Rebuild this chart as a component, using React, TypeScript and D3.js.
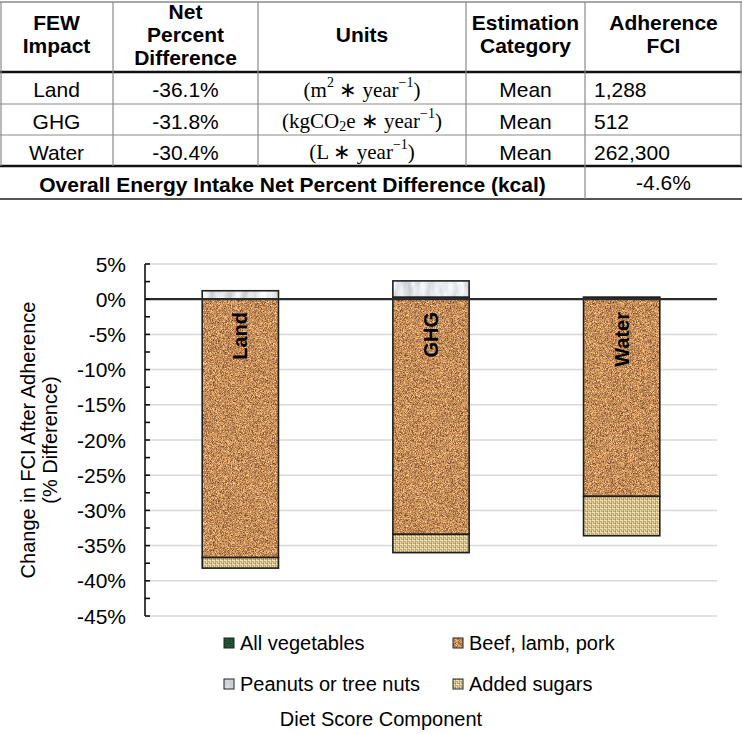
import React from "react";
import * as d3 from "d3";

// ---------- chart data ----------
const categories = ["Land", "GHG", "Water"];
const seriesKeys = ["veg", "beef", "nuts", "sugars"];
const seriesLabels = ["All vegetables", "Beef, lamb, pork", "Peanuts or tree nuts", "Added sugars"];
const allVegetables = [0, 0.3, 0.1];
const beefLambPork = [-36.7, -33.4, -28.0];
const peanutsTreeNuts = [1.2, 2.3, 0.2];
const addedSugars = [-1.5, -2.6, -5.6];
const yTickValues = [5, 0, -5, -10, -15, -20, -25, -30, -35, -40, -45];
const yAxisTitle = ["Change in FCI After Adherence", "(% Difference)"];
const xAxisTitle = "Diet Score Component";

// ---------- table data ----------
const tableHeaders = [["FEW", "Impact"], ["Net", "Percent", "Difference"], ["Units"], ["Estimation", "Category"], ["Adherence", "FCI"]];
const fewImpacts = ["Land", "GHG", "Water"];
const netPercentDiff = ["-36.1%", "-31.8%", "-30.4%"];
const unitParts: [string, string][][] = [
  [["(m", ""], ["2", "sup"], [" \u2217 year", ""], ["\u22121", "sup"], [")", ""]],
  [["(kgCO", ""], ["2", "sub"], ["e \u2217 year", ""], ["\u22121", "sup"], [")", ""]],
  [["(L \u2217  year", ""], ["\u22121", "sup"], [")", ""]],
];
const estimationCategory = ["Mean", "Mean", "Mean"];
const adherenceFCI = ["1,288", "512", "262,300"];
const overallLabel = "Overall Energy Intake Net Percent Difference (kcal)";
const overallValue = "-4.6%";

const W = 742;
const H = 734;
const SANS = "'Liberation Sans', Arial, sans-serif";
const SERIF = "'Liberation Serif', 'Times New Roman', serif";

const filters: Record<string, string | undefined> = {
  veg: "url(#tVeg)",
  beef: "url(#tCork)",
  nuts: "url(#tMarble)",
  sugars: undefined,
};

function UnitText({ parts, x, y }: { parts: [string, string][]; x: number; y: number }) {
  let shift = 0;
  return (
    <text x={x} y={y} textAnchor="middle" dominantBaseline="central" fontFamily={SERIF} fontSize={21} fill="#000">
      {parts.map(([s, k], si) => {
        const target = k === "sup" ? -8 : k === "sub" ? 5 : 0;
        const dy = target - shift;
        shift = target;
        return (
          <tspan key={si} dy={dy} fontSize={k ? 14 : 21}>
            {s}
          </tspan>
        );
      })}
    </text>
  );
}

function Table() {
  const colX = [0, 113, 258, 466, 585, 742];
  const rowY = [2, 72, 104, 135, 166, 199];
  const centers = colX.slice(0, 5).map((x, i) => (x + colX[i + 1]) / 2);
  const headerMid = 34;
  const lh = 23;
  const FS = 21;
  return (
    <g>
      {tableHeaders.map((lines, ci) =>
        lines.map((t, li) => (
          <text
            key={`h${ci}-${li}`}
            x={centers[ci]}
            y={headerMid + (li - (lines.length - 1) / 2) * lh}
            textAnchor="middle"
            dominantBaseline="central"
            fontFamily={SANS}
            fontWeight="bold"
            fontSize={FS}
            fill="#000"
          >
            {t}
          </text>
        ))
      )}
      {fewImpacts.map((imp, ri) => {
        const cy = (rowY[ri + 1] + rowY[ri + 2]) / 2 + 1.5;
        return (
          <g key={`r${ri}`} fontFamily={SANS} fontSize={FS} fill="#000">
            <text x={centers[0]} y={cy} textAnchor="middle" dominantBaseline="central">{imp}</text>
            <text x={centers[1]} y={cy} textAnchor="middle" dominantBaseline="central">{netPercentDiff[ri]}</text>
            <UnitText parts={unitParts[ri]} x={centers[2]} y={cy} />
            <text x={centers[3]} y={cy} textAnchor="middle" dominantBaseline="central">{estimationCategory[ri]}</text>
            <text x={colX[4] + 9} y={cy} textAnchor="start" dominantBaseline="central">{adherenceFCI[ri]}</text>
          </g>
        );
      })}
      <text
        x={colX[4] / 2}
        y={(rowY[4] + rowY[5]) / 2 + 2}
        textAnchor="middle"
        dominantBaseline="central"
        fontFamily={SANS}
        fontWeight="bold"
        fontSize={FS}
      >
        {overallLabel}
      </text>
      <text
        x={centers[4]}
        y={(rowY[4] + rowY[5]) / 2}
        textAnchor="middle"
        dominantBaseline="central"
        fontFamily={SANS}
        fontSize={FS}
      >
        {overallValue}
      </text>
      <line x1={0} x2={W} y1={rowY[0]} y2={rowY[0]} stroke="#8a8a8a" strokeWidth={1.5} />
      {[rowY[2], rowY[3]].map((y) => (
        <line key={y} x1={0} x2={W} y1={y} y2={y} stroke="#8a8a8a" strokeWidth={1.2} />
      ))}
      <line x1={0} x2={W} y1={rowY[1]} y2={rowY[1]} stroke="#111" strokeWidth={2.5} />
      <line x1={0} x2={W} y1={rowY[4]} y2={rowY[4]} stroke="#111" strokeWidth={2.5} />
      <line x1={0} x2={W} y1={rowY[5]} y2={rowY[5]} stroke="#555" strokeWidth={2} />
      {[1, 2, 3].map((i) => (
        <line key={i} x1={colX[i]} x2={colX[i]} y1={rowY[0]} y2={rowY[4]} stroke="#8a8a8a" strokeWidth={1.2} />
      ))}
      <line x1={colX[4]} x2={colX[4]} y1={rowY[0]} y2={rowY[5]} stroke="#8a8a8a" strokeWidth={1.2} />
      <line x1={1} x2={1} y1={rowY[0]} y2={rowY[4]} stroke="#8a8a8a" strokeWidth={1.2} />
      <line x1={W - 1} x2={W - 1} y1={rowY[0]} y2={rowY[4]} stroke="#8a8a8a" strokeWidth={1.2} />
    </g>
  );
}

function Defs() {
  return (
    <defs>
      <filter id="tCork" x="0" y="0" width="1" height="1" colorInterpolationFilters="sRGB">
        <feTurbulence type="fractalNoise" baseFrequency="1.6" numOctaves="2" seed="4" result="n" />
        <feColorMatrix
          in="n"
          type="matrix"
          values="1.1 0 0 0 0.22  0.95 0 0 0 0.08  0.75 0 0 0 -0.02  0 0 0 0 1"
          result="c"
        />
        <feComposite in="c" in2="SourceGraphic" operator="in" />
      </filter>
      <filter id="tVeg" x="0" y="0" width="1" height="1" colorInterpolationFilters="sRGB">
        <feTurbulence type="fractalNoise" baseFrequency="0.9" numOctaves="2" seed="7" result="n" />
        <feColorMatrix in="n" type="matrix" values="0.2 0 0 0 0.02  0.35 0 0 0 0.14  0.25 0 0 0 0.06  0 0 0 0 1" result="c" />
        <feComposite in="c" in2="SourceGraphic" operator="in" />
      </filter>
      <filter id="tMarble" x="0" y="0" width="1" height="1" colorInterpolationFilters="sRGB">
        <feTurbulence type="fractalNoise" baseFrequency="0.12 0.04" numOctaves="4" seed="11" result="n" />
        <feColorMatrix in="n" type="matrix" values="0.35 0 0 0 0.72  0.35 0 0 0 0.73  0.35 0 0 0 0.74  0 0 0 0 1" result="c" />
        <feComposite in="c" in2="SourceGraphic" operator="in" />
      </filter>
      <pattern id="pBurlap" width="4" height="4" patternUnits="userSpaceOnUse">
        <rect width="4" height="4" fill="#c4a86f" />
        <rect x="0" y="0" width="3" height="1" fill="#efe3ba" />
        <rect x="0" y="2" width="1" height="2" fill="#e6d5a2" />
        <rect x="2" y="1" width="1" height="2" fill="#e9d9aa" />
        <rect x="3" y="3" width="1" height="1" fill="#a98c55" />
      </pattern>
    </defs>
  );
}

function FillRect({ k, x, y, w, h }: { k: string; x: number; y: number; w: number; h: number }) {
  return k === "sugars" ? (
    <rect x={x} y={y} width={w} height={h} fill="url(#pBurlap)" />
  ) : (
    <rect x={x} y={y} width={w} height={h} fill="#000" filter={filters[k]} />
  );
}

function Chart() {
  const left = 145;
  const right = 717;
  const top = 264;
  const bottom = 616;

  const x = d3.scaleBand<string>().domain(categories).range([left, right]).paddingInner(0.6).paddingOuter(0.3);
  const y = d3.scaleLinear().domain([-45, 5]).range([bottom, top]);

  const rows = categories.map((c, i) => ({
    cat: c,
    veg: allVegetables[i],
    beef: beefLambPork[i],
    nuts: peanutsTreeNuts[i],
    sugars: addedSugars[i],
  }));
  const stacked = d3.stack<any>().keys(seriesKeys).offset(d3.stackOffsetDiverging)(rows);
  const minorTicks = d3.range(-45, 5.01, 2.5);

  const legendCols = [224, 453];
  const legendRows = [643, 684];

  return (
    <g>
      {yTickValues
        .filter((v) => v !== 0)
        .map((v) => (
          <line key={v} x1={left} x2={right} y1={y(v)} y2={y(v)} stroke="#d9d9d9" strokeWidth={1.5} />
        ))}
      {stacked.map((s) =>
        s.map((d, i) => {
          const y0 = Math.min(y(d[0]), y(d[1]));
          const h = Math.abs(y(d[0]) - y(d[1]));
          if (h < 0.01) return null;
          const bx = x(categories[i])!;
          const key = s.key as string;
          return (
            <g key={`${key}-${i}`}>
              <FillRect k={key} x={bx} y={y0} w={x.bandwidth()} h={h} />
              <rect x={bx} y={y0} width={x.bandwidth()} height={h} fill="none" stroke="#1f1f1f" strokeWidth={1.6} />
            </g>
          );
        })
      )}
      <line x1={left} x2={right} y1={y(0)} y2={y(0)} stroke="#2b2b2b" strokeWidth={2.2} />
      <line x1={left} x2={left} y1={top} y2={bottom} stroke="#111" strokeWidth={1.6} />
      {minorTicks.map((v) => (
        <line key={v} x1={left} x2={left + 5} y1={y(v)} y2={y(v)} stroke="#111" strokeWidth={1.6} />
      ))}
      {yTickValues.map((v) => (
        <text
          key={v}
          x={126}
          y={y(v)}
          textAnchor="end"
          dominantBaseline="central"
          fontFamily={SANS}
          fontSize={21}
          fill="#000"
        >
          {`${v}%`}
        </text>
      ))}
      {categories.map((c) => (
        <text
          key={c}
          transform={`translate(${x(c)! + x.bandwidth() / 2},312) rotate(-90)`}
          textAnchor="end"
          dominantBaseline="central"
          fontFamily={SANS}
          fontWeight="bold"
          fontSize={20}
          fill="#000"
        >
          {c}
        </text>
      ))}
      {yAxisTitle.map((t, i) => (
        <text
          key={i}
          transform={`translate(${28 + i * 22},${(top + bottom) / 2}) rotate(-90)`}
          textAnchor="middle"
          dominantBaseline="central"
          fontFamily={SANS}
          fontSize={20}
          fill="#000"
        >
          {t}
        </text>
      ))}
      {seriesKeys.map((k, i) => {
        const lx = legendCols[i % 2];
        const ly = legendRows[Math.floor(i / 2)];
        return (
          <g key={k}>
            <FillRect k={k} x={lx} y={ly - 5} w={10} h={10} />
            <rect x={lx} y={ly - 5} width={10} height={10} fill="none" stroke="#222" strokeWidth={1} />
            <text x={lx + 16} y={ly} dominantBaseline="central" fontFamily={SANS} fontSize={20} fill="#000">
              {seriesLabels[i]}
            </text>
          </g>
        );
      })}
      <text x={381} y={719} textAnchor="middle" dominantBaseline="central" fontFamily={SANS} fontSize={20} fill="#000">
        {xAxisTitle}
      </text>
    </g>
  );
}

export default function App() {
  return (
    <svg
      width={W}
      height={H}
      viewBox={`0 0 ${W} ${H}`}
      style={{ position: "absolute", left: 0, top: 0, background: "#fff" }}
    >
      <rect width={W} height={H} fill="#fff" />
      <Defs />
      <Table />
      <Chart />
    </svg>
  );
}
